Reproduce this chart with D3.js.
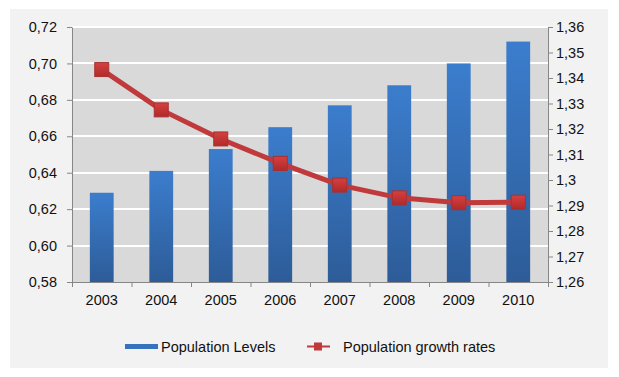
<!DOCTYPE html>
<html>
<head>
<meta charset="utf-8">
<title></title>
<script src="https://cdn.jsdelivr.net/npm/d3@7"></script>
<style>
  body { margin: 0; background: #fff; }
  text { font-family: "Liberation Sans", Arial, sans-serif; fill: #111; }
</style>
</head>
<body>
<div id="chart"></div>
<script>
  // data
  var years = ["2003", "2004", "2005", "2006", "2007", "2008", "2009", "2010"];
  var levels = [0.629, 0.641, 0.653, 0.665, 0.677, 0.688, 0.700, 0.712];
  var growth = [1.3433, 1.3275, 1.3161, 1.3065, 1.2980, 1.2930, 1.2911, 1.2913];
  var leftTicks = [0.58, 0.60, 0.62, 0.64, 0.66, 0.68, 0.70, 0.72];
  var rightTicks = [1.26, 1.27, 1.28, 1.29, 1.30, 1.31, 1.32, 1.33, 1.34, 1.35, 1.36];

  var W = 619, H = 377;
  var m = { left: 72, right: 548, top: 27, bottom: 282 };
  var FS = 14.5;

  var svg = d3.select('#chart').append('svg').attr('width', W).attr('height', H);
  var defs = svg.append('defs');

  var bg = defs.append('linearGradient').attr('id', 'barGrad').attr('x1', 0).attr('y1', 0).attr('x2', 0).attr('y2', 1);
  bg.append('stop').attr('offset', '0%').attr('stop-color', '#3b7dcd');
  bg.append('stop').attr('offset', '100%').attr('stop-color', '#2d5c98');

  var mg = defs.append('linearGradient').attr('id', 'mkGrad').attr('x1', 0).attr('y1', 0).attr('x2', 0).attr('y2', 1);
  mg.append('stop').attr('offset', '0%').attr('stop-color', '#d64040');
  mg.append('stop').attr('offset', '100%').attr('stop-color', '#b02a2a');

  // outer panel
  svg.append('rect').attr('x', 10).attr('y', 9).attr('width', 598).attr('height', 359).attr('fill', '#f2f2f2');
  // plot area
  svg.append('rect').attr('x', m.left).attr('y', m.top).attr('width', m.right - m.left).attr('height', m.bottom - m.top).attr('fill', '#d9d9d9');

  var x = d3.scaleBand().domain(years).range([m.left, m.right]).paddingInner(0.6).paddingOuter(0.3);
  var xb = d3.scaleBand().domain(years).range([m.left, m.right]);
  var yL = d3.scaleLinear().domain([0.58, 0.72]).range([m.bottom, m.top]);
  var yR = d3.scaleLinear().domain([1.26, 1.36]).range([m.bottom, m.top]);

  // grid lines
  svg.append('g').selectAll('line').data(leftTicks.slice(1)).join('line')
    .attr('x1', m.left).attr('x2', m.right)
    .attr('y1', function(d) { return Math.round(yL(d)); }).attr('y2', function(d) { return Math.round(yL(d)); })
    .attr('stroke', '#fff').attr('stroke-width', 2);

  // bars
  svg.append('g').selectAll('rect').data(years).join('rect')
    .attr('x', function(d) { return x(d); })
    .attr('width', x.bandwidth())
    .attr('y', function(d, i) { return yL(levels[i]); })
    .attr('height', function(d, i) { return m.bottom - yL(levels[i]); })
    .attr('fill', 'url(#barGrad)');

  // axes
  var fmtL = function(d) { return d3.format('.2f')(d).replace('.', ','); };
  var fmtR = function(d) { return d3.format('.2~f')(d).replace('.', ','); };

  var gL = svg.append('g').attr('transform', 'translate(' + m.left + ',0)')
    .call(d3.axisLeft(yL).tickValues(leftTicks).tickFormat(fmtL).tickSize(5).tickSizeOuter(0).tickPadding(10));
  var gR = svg.append('g').attr('transform', 'translate(' + m.right + ',0)')
    .call(d3.axisRight(yR).tickValues(rightTicks).tickFormat(fmtR).tickSize(5).tickSizeOuter(0).tickPadding(3));
  var xTicks = years.map(function(d) { return xb(d); }).concat([m.right]);
  var gX = svg.append('g').attr('transform', 'translate(0,' + m.bottom + ')')
    .call(d3.axisBottom(d3.scaleLinear().domain([m.left, m.right]).range([m.left, m.right]))
      .tickValues(xTicks).tickFormat('').tickSize(5).tickSizeOuter(0));
  svg.append('g').selectAll('text').data(years).join('text')
    .attr('x', function(d) { return xb(d) + xb.bandwidth() / 2; })
    .attr('y', 305).attr('text-anchor', 'middle').attr('font-size', FS).text(function(d) { return d; });

  [gL, gR, gX].forEach(function(g) {
    g.selectAll('path, line').attr('stroke', '#868686');
    g.selectAll('text').attr('font-size', FS).attr('fill', '#111')
      .style('font-family', '"Liberation Sans", Arial, sans-serif');
  });

  // growth line
  var cx = function(i) { return xb(years[i]) + xb.bandwidth() / 2; };
  var line = d3.line().x(function(d, i) { return cx(i); }).y(function(d) { return yR(d); });
  svg.append('path').datum(growth).attr('d', line)
    .attr('fill', 'none').attr('stroke', '#c0393b').attr('stroke-width', 5).attr('stroke-linejoin', 'round');
  svg.append('g').selectAll('rect').data(growth).join('rect')
    .attr('x', function(d, i) { return cx(i) - 7; })
    .attr('y', function(d) { return yR(d) - 7; })
    .attr('width', 14).attr('height', 14)
    .attr('fill', 'url(#mkGrad)').attr('stroke', '#a83030').attr('stroke-width', 1);

  // legend
  var lg = svg.append('g');
  lg.append('rect').attr('x', 125).attr('y', 344).attr('width', 33).attr('height', 5).attr('fill', '#3672bd');
  lg.append('text').attr('x', 161).attr('y', 351.5).attr('font-size', FS).text('Population Levels');
  lg.append('line').attr('x1', 307).attr('x2', 330).attr('y1', 346.5).attr('y2', 346.5).attr('stroke', '#c0393b').attr('stroke-width', 2);
  lg.append('rect').attr('x', 314).attr('y', 342.5).attr('width', 8).attr('height', 8).attr('fill', '#c0393b');
  lg.append('text').attr('x', 343).attr('y', 351.5).attr('font-size', FS).text('Population growth rates');
</script>
</body>
</html>
